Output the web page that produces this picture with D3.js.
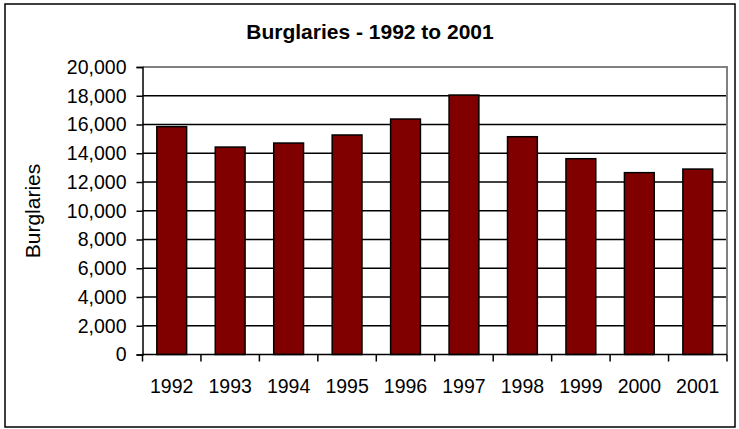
<!DOCTYPE html>
<html>
<head>
<meta charset="utf-8">
<script src="https://cdn.jsdelivr.net/npm/d3@7"></script>
<style>
  html, body { margin: 0; padding: 0; background: #fff; }
  svg { display: block; }
  text { font-family: "Liberation Sans", Arial, sans-serif; fill: #000; }
</style>
</head>
<body>
<svg id="chart" width="739" height="429"></svg>
<script>
// Annual burglary counts
const years = ["1992", "1993", "1994", "1995", "1996", "1997", "1998", "1999", "2000", "2001"];
const burglaries = [15850, 14430, 14710, 15270, 16380, 18050, 15150, 13620, 12650, 12900];
const yTicks = [0, 2000, 4000, 6000, 8000, 10000, 12000, 14000, 16000, 18000, 20000];
const titleText = "Burglaries - 1992 to 2001";
const yAxisTitle = "Burglaries";

const svg = d3.select("#chart");
const plot = { left: 142.5, right: 727, top: 67, bottom: 354.5 };

// Outer frame
svg.append("rect")
  .attr("x", 5).attr("y", 4)
  .attr("width", 730).attr("height", 423)
  .attr("fill", "#fff").attr("stroke", "#000").attr("stroke-width", 1.5);

const x = d3.scaleBand()
  .domain(years)
  .range([plot.left, plot.right])
  .paddingInner(0.49)
  .paddingOuter(0.245);

const y = d3.scaleLinear()
  .domain([0, 20000])
  .range([plot.bottom, plot.top]);

// Horizontal gridlines
svg.append("g")
  .selectAll("line")
  .data(yTicks.filter(d => d > 0 && d < 20000))
  .join("line")
  .attr("x1", plot.left).attr("x2", plot.right)
  .attr("y1", d => y(d)).attr("y2", d => y(d))
  .attr("stroke", "#000").attr("stroke-width", 1.5);

// Plot area border (top and right, grey)
svg.append("path")
  .attr("d", `M${plot.left},${y(20000)}H${plot.right}V${plot.bottom}`)
  .attr("fill", "none").attr("stroke", "#808080").attr("stroke-width", 2);

// Bars
svg.append("g")
  .selectAll("rect")
  .data(years.map((yr, i) => ({ yr, v: burglaries[i] })))
  .join("rect")
  .attr("x", d => x(d.yr))
  .attr("y", d => y(d.v))
  .attr("width", x.bandwidth())
  .attr("height", d => y(0) - y(d.v))
  .attr("fill", "#800000")
  .attr("stroke", "#000")
  .attr("stroke-width", 1.5);

// Y axis
const yAxis = d3.axisLeft(y)
  .tickValues(yTicks)
  .tickSize(6)
  .tickPadding(10)
  .tickFormat(d3.format(","));
const gy = svg.append("g")
  .attr("transform", `translate(${plot.left},0)`)
  .call(yAxis);
gy.select(".domain").attr("stroke", "#000").attr("stroke-width", 1.5);
gy.selectAll(".tick line").attr("stroke", "#000").attr("stroke-width", 1.5);
gy.selectAll(".tick text")
  .style("font-family", "'Liberation Sans', Arial, sans-serif")
  .style("font-size", "19.5px")
  .attr("fill", "#000");

// X axis: ticks on category boundaries, labels centred under bars
const gx = svg.append("g")
  .attr("transform", `translate(0,${plot.bottom})`);
gx.append("line")
  .attr("x1", plot.left).attr("x2", plot.right)
  .attr("stroke", "#000").attr("stroke-width", 1.5);
const boundaries = years.map(yr => x(yr) - x.step() * x.paddingInner() / 2);
boundaries.push(plot.right);
gx.selectAll("line.tk")
  .data(boundaries)
  .join("line")
  .attr("class", "tk")
  .attr("x1", d => d).attr("x2", d => d)
  .attr("y1", 0).attr("y2", 7)
  .attr("stroke", "#000").attr("stroke-width", 1.5);
gx.selectAll("text")
  .data(years)
  .join("text")
  .attr("x", d => x(d) + x.bandwidth() / 2)
  .attr("y", 38)
  .attr("text-anchor", "middle")
  .style("font-size", "19.5px")
  .text(d => d);

// Titles
svg.append("text")
  .attr("x", 370).attr("y", 39)
  .attr("text-anchor", "middle")
  .style("font-size", "21px")
  .style("font-weight", "bold")
  .text(titleText);

svg.append("text")
  .attr("transform", `translate(40,211) rotate(-90)`)
  .attr("text-anchor", "middle")
  .style("font-size", "21px")
  .text(yAxisTitle);
</script>
</body>
</html>
